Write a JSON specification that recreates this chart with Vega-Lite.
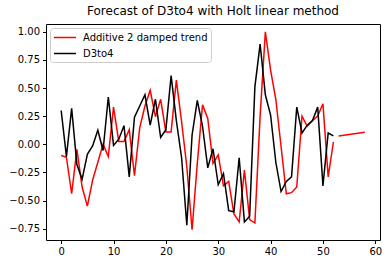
{
  "$schema": "https://vega.github.io/schema/vega-lite/v6.json",
  "width": 334,
  "height": 216,
  "autosize": "none",
  "padding": {"left": 46, "top": 24, "right": 10, "bottom": 24},
  "config": {
    "font": "DejaVu Sans",
    "view": {"stroke": "black", "strokeWidth": 1},
    "axis": {"grid": false, "domain": false, "tickColor": "black", "tickSize": 3.5, "labelFontSize": 10, "labelColor": "black", "labelPadding": 3, "title": null}
  },
  "title": {"text": "Forecast of D3to4 with Holt linear method", "fontSize": 12, "fontWeight": "normal", "offset": 6, "color": "black", "anchor": "middle"},
  "data": {"values": [
    {"x":0,"y":0.30,"s":"D3to4","g":"b"},{"x":1,"y":-0.11,"s":"D3to4","g":"b"},{"x":2,"y":0.32,"s":"D3to4","g":"b"},{"x":3,"y":-0.18,"s":"D3to4","g":"b"},{"x":4,"y":-0.31,"s":"D3to4","g":"b"},{"x":5,"y":-0.09,"s":"D3to4","g":"b"},{"x":6,"y":-0.015,"s":"D3to4","g":"b"},{"x":7,"y":0.125,"s":"D3to4","g":"b"},{"x":8,"y":-0.055,"s":"D3to4","g":"b"},{"x":9,"y":0.42,"s":"D3to4","g":"b"},
    {"x":10,"y":-0.01,"s":"D3to4","g":"b"},{"x":11,"y":0.045,"s":"D3to4","g":"b"},{"x":12,"y":0.165,"s":"D3to4","g":"b"},{"x":13,"y":-0.29,"s":"D3to4","g":"b"},{"x":14,"y":0.24,"s":"D3to4","g":"b"},{"x":15,"y":0.34,"s":"D3to4","g":"b"},{"x":16,"y":0.44,"s":"D3to4","g":"b"},{"x":17,"y":0.17,"s":"D3to4","g":"b"},{"x":18,"y":0.40,"s":"D3to4","g":"b"},{"x":19,"y":0.06,"s":"D3to4","g":"b"},
    {"x":20,"y":0.13,"s":"D3to4","g":"b"},{"x":21,"y":0.61,"s":"D3to4","g":"b"},{"x":22,"y":0.21,"s":"D3to4","g":"b"},{"x":23,"y":-0.12,"s":"D3to4","g":"b"},{"x":24,"y":-0.72,"s":"D3to4","g":"b"},{"x":25,"y":0.08,"s":"D3to4","g":"b"},{"x":26,"y":0.39,"s":"D3to4","g":"b"},{"x":27,"y":0.16,"s":"D3to4","g":"b"},{"x":28,"y":-0.21,"s":"D3to4","g":"b"},{"x":29,"y":-0.04,"s":"D3to4","g":"b"},
    {"x":30,"y":-0.36,"s":"D3to4","g":"b"},{"x":31,"y":-0.26,"s":"D3to4","g":"b"},{"x":32,"y":-0.59,"s":"D3to4","g":"b"},{"x":33,"y":-0.60,"s":"D3to4","g":"b"},{"x":34,"y":-0.12,"s":"D3to4","g":"b"},{"x":35,"y":-0.69,"s":"D3to4","g":"b"},{"x":36,"y":-0.64,"s":"D3to4","g":"b"},{"x":37,"y":0.51,"s":"D3to4","g":"b"},{"x":38,"y":0.89,"s":"D3to4","g":"b"},{"x":39,"y":0.44,"s":"D3to4","g":"b"},
    {"x":40,"y":0.26,"s":"D3to4","g":"b"},{"x":41,"y":-0.16,"s":"D3to4","g":"b"},{"x":42,"y":-0.42,"s":"D3to4","g":"b"},{"x":43,"y":-0.33,"s":"D3to4","g":"b"},{"x":44,"y":-0.29,"s":"D3to4","g":"b"},{"x":45,"y":0.33,"s":"D3to4","g":"b"},{"x":46,"y":0.10,"s":"D3to4","g":"b"},{"x":47,"y":0.17,"s":"D3to4","g":"b"},{"x":48,"y":0.21,"s":"D3to4","g":"b"},{"x":49,"y":0.33,"s":"D3to4","g":"b"},
    {"x":50,"y":-0.37,"s":"D3to4","g":"b"},{"x":51,"y":0.10,"s":"D3to4","g":"b"},{"x":52,"y":0.075,"s":"D3to4","g":"b"},
    {"x":0,"y":-0.10,"s":"Additive 2 damped trend","g":"r"},{"x":1,"y":-0.115,"s":"Additive 2 damped trend","g":"r"},{"x":2,"y":-0.44,"s":"Additive 2 damped trend","g":"r"},{"x":3,"y":-0.045,"s":"Additive 2 damped trend","g":"r"},{"x":4,"y":-0.38,"s":"Additive 2 damped trend","g":"r"},{"x":5,"y":-0.55,"s":"Additive 2 damped trend","g":"r"},{"x":6,"y":-0.32,"s":"Additive 2 damped trend","g":"r"},{"x":7,"y":-0.16,"s":"Additive 2 damped trend","g":"r"},{"x":8,"y":0.0,"s":"Additive 2 damped trend","g":"r"},{"x":9,"y":-0.11,"s":"Additive 2 damped trend","g":"r"},
    {"x":10,"y":0.33,"s":"Additive 2 damped trend","g":"r"},{"x":11,"y":0.025,"s":"Additive 2 damped trend","g":"r"},{"x":12,"y":0.025,"s":"Additive 2 damped trend","g":"r"},{"x":13,"y":0.13,"s":"Additive 2 damped trend","g":"r"},{"x":14,"y":-0.28,"s":"Additive 2 damped trend","g":"r"},{"x":15,"y":0.145,"s":"Additive 2 damped trend","g":"r"},{"x":16,"y":0.34,"s":"Additive 2 damped trend","g":"r"},{"x":17,"y":0.48,"s":"Additive 2 damped trend","g":"r"},{"x":18,"y":0.245,"s":"Additive 2 damped trend","g":"r"},{"x":19,"y":0.40,"s":"Additive 2 damped trend","g":"r"},
    {"x":20,"y":0.11,"s":"Additive 2 damped trend","g":"r"},{"x":21,"y":0.11,"s":"Additive 2 damped trend","g":"r"},{"x":22,"y":0.57,"s":"Additive 2 damped trend","g":"r"},{"x":23,"y":0.20,"s":"Additive 2 damped trend","g":"r"},{"x":24,"y":-0.20,"s":"Additive 2 damped trend","g":"r"},{"x":25,"y":-0.76,"s":"Additive 2 damped trend","g":"r"},{"x":26,"y":-0.17,"s":"Additive 2 damped trend","g":"r"},{"x":27,"y":0.35,"s":"Additive 2 damped trend","g":"r"},{"x":28,"y":0.23,"s":"Additive 2 damped trend","g":"r"},{"x":29,"y":-0.17,"s":"Additive 2 damped trend","g":"r"},
    {"x":30,"y":-0.095,"s":"Additive 2 damped trend","g":"r"},{"x":31,"y":-0.37,"s":"Additive 2 damped trend","g":"r"},{"x":32,"y":-0.33,"s":"Additive 2 damped trend","g":"r"},{"x":33,"y":-0.62,"s":"Additive 2 damped trend","g":"r"},{"x":34,"y":-0.69,"s":"Additive 2 damped trend","g":"r"},{"x":35,"y":-0.23,"s":"Additive 2 damped trend","g":"r"},{"x":36,"y":-0.67,"s":"Additive 2 damped trend","g":"r"},{"x":37,"y":-0.70,"s":"Additive 2 damped trend","g":"r"},{"x":38,"y":0.25,"s":"Additive 2 damped trend","g":"r"},{"x":39,"y":1.0,"s":"Additive 2 damped trend","g":"r"},
    {"x":40,"y":0.66,"s":"Additive 2 damped trend","g":"r"},{"x":41,"y":0.40,"s":"Additive 2 damped trend","g":"r"},{"x":42,"y":-0.02,"s":"Additive 2 damped trend","g":"r"},{"x":43,"y":-0.44,"s":"Additive 2 damped trend","g":"r"},{"x":44,"y":-0.43,"s":"Additive 2 damped trend","g":"r"},{"x":45,"y":-0.38,"s":"Additive 2 damped trend","g":"r"},{"x":46,"y":0.25,"s":"Additive 2 damped trend","g":"r"},{"x":47,"y":0.16,"s":"Additive 2 damped trend","g":"r"},{"x":48,"y":0.21,"s":"Additive 2 damped trend","g":"r"},{"x":49,"y":0.25,"s":"Additive 2 damped trend","g":"r"},
    {"x":50,"y":0.36,"s":"Additive 2 damped trend","g":"r"},{"x":51,"y":-0.29,"s":"Additive 2 damped trend","g":"r"},{"x":52,"y":0.02,"s":"Additive 2 damped trend","g":"r"},
    {"x":53,"y":0.074,"s":"Additive 2 damped trend","g":"f"},{"x":58,"y":0.107,"s":"Additive 2 damped trend","g":"f"}
  ]},
  "encoding": {
    "x": {"field": "x", "type": "quantitative", "scale": {"domain": [-2.9, 60.9], "nice": false, "zero": false}, "axis": {"values": [0,10,20,30,40,50,60]}},
    "y": {"field": "y", "type": "quantitative", "scale": {"domain": [-0.851, 1.069], "nice": false, "zero": false}, "axis": {"values": [-0.75,-0.5,-0.25,0,0.25,0.5,0.75,1.0], "format": ".2f"}},
    "color": {"field": "s", "type": "nominal", "scale": {"domain": ["Additive 2 damped trend", "D3to4"], "range": ["red", "black"]},
      "legend": {"title": null, "orient": "top-left", "offset": 4, "symbolType": "M-2,0H2", "symbolSize": 121, "symbolOffset": 5.5, "symbolStrokeWidth": 1.5, "labelFontSize": 10, "labelColor": "black", "labelOffset": 11.5, "fillColor": "white", "strokeColor": "#cccccc", "cornerRadius": 3, "padding": 3, "rowPadding": 4}},
    "detail": {"field": "g", "type": "nominal"},
    "order": {"field": "x", "type": "quantitative"}
  },
  "layer": [
    {"transform": [{"filter": "datum.g != 'b'"}], "mark": {"type": "line", "strokeWidth": 1.5}},
    {"transform": [{"filter": "datum.g == 'b'"}], "mark": {"type": "line", "strokeWidth": 1.5}}
  ]
}
